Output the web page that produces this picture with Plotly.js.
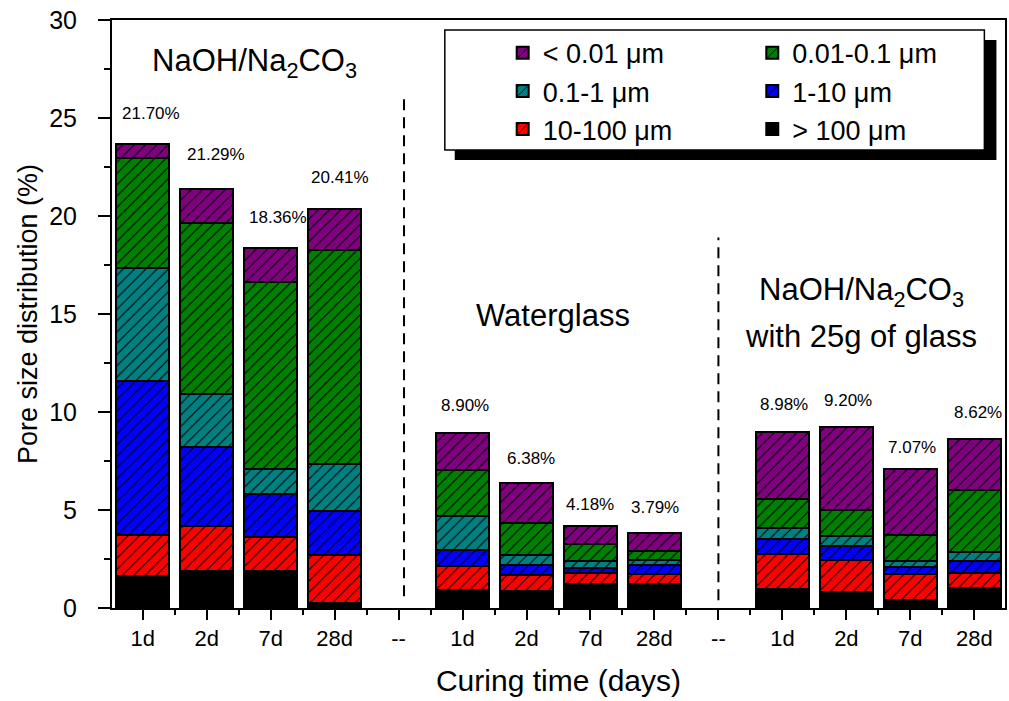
<!DOCTYPE html>
<html>
<head>
<meta charset="utf-8">
<script src="https://cdn.plot.ly/plotly-3.0.1.min.js"></script>
<style>html,body{margin:0;padding:0;background:#fff;}#chart{width:1009px;height:701px;}</style>
</head>
<body>
<div id="chart"></div>
<script>
// Tick labels along the x axis ("--" are the separators between groups)
const tickLabels = ['1d','2d','7d','28d','--','1d','2d','7d','28d','--','1d','2d','7d','28d'];

// Series (pore size classes), bottom to top of each stack
const seriesNames = ['> 100 \u03bcm','10-100 \u03bcm','1-10 \u03bcm','0.1-1 \u03bcm','0.01-0.1 \u03bcm','< 0.01 \u03bcm'];
const seriesColors = ['#000000','#ff0000','#0000ff','#008080','#008000','#800080'];

// Values (%) for the 12 bars: NaOH/Na2CO3 (1d,2d,7d,28d), Waterglass (...), NaOH/Na2CO3 + glass (...)
const gt100   = [1.62, 1.89, 1.89, 0.26, 0.91, 0.85, 1.25, 1.25, 0.96, 0.82, 0.39, 1.04];
const r10_100 = [2.10, 2.30, 1.74, 2.44, 1.22, 0.82, 0.56, 0.46, 1.77, 1.62, 1.33, 0.75];
const r1_10   = [7.84, 4.04, 2.19, 2.26, 0.82, 0.51, 0.24, 0.47, 0.77, 0.73, 0.35, 0.60];
const r01_1   = [5.80, 2.69, 1.27, 2.39, 1.74, 0.52, 0.34, 0.26, 0.59, 0.50, 0.32, 0.47];
const r001_01 = [5.58, 8.70, 9.55, 10.91, 2.35, 1.62, 0.87, 0.46, 1.47, 1.33, 1.36, 3.16];
const lt001   = [0.73, 1.74, 1.71, 2.12, 1.88, 2.07, 0.92, 0.91, 3.41, 4.21, 3.33, 2.61];
const seriesValues = [gt100, r10_100, r1_10, r01_1, r001_01, lt001];

// Percent labels written above the bars
const percentLabels = ['21.70%','21.29%','18.36%','20.41%','8.90%','6.38%','4.18%','3.79%','8.98%','9.20%','7.07%','8.62%'];
</script>
<script>
const font = 'Liberation Sans, Arial, sans-serif';

// x positions of bars = indices of non-separator tick labels
const barX = [];
tickLabels.forEach((t, i) => { if (t !== '--') barX.push(i); });

// legend layout: left column (legend) / right column (legend2)
const legendOf = ['legend2','legend','legend2','legend','legend2','legend'];
const rankOf   = [3, 3, 2, 2, 1, 1];

const traces = seriesNames.map((name, k) => {
  const solid = k === 0;
  return {
    type: 'bar',
    name: name,
    x: barX,
    y: seriesValues[k],
    width: 0.82,
    legend: legendOf[k],
    legendrank: rankOf[k],
    marker: {
      color: seriesColors[k],
      line: {color: '#000', width: 2},
      pattern: solid ? {shape: ''} : {shape: '/', fgcolor: '#000', bgcolor: seriesColors[k], fillmode: 'replace', size: 8, solidity: 0.14}
    },
    hoverinfo: 'x+y+name'
  };
});

// totals for label placement
const totals = barX.map((_, i) => seriesValues.reduce((s, arr) => s + arr[i], 0));
const lblXShift = [8, 9, 7, 5, 2, 4, 0, 1, 2, 2, 2, 4];
const lblYShift = [31, 35, 31, 31, 28, 24, 22, 26, 28, 27, 22, 26];

const annotations = percentLabels.map((t, i) => ({
  x: barX[i], y: totals[i], xref: 'x', yref: 'y', text: t, showarrow: false,
  xshift: lblXShift[i], yshift: lblYShift[i],
  font: {family: font, size: 17, color: '#000'}
}));

const bigFont = {family: font, size: 31, color: '#000'};
annotations.push(
  {x: 1.75, y: 27.8, xref: 'x', yref: 'y', text: 'NaOH/Na<sub>2</sub>CO<sub>3</sub>', showarrow: false, font: bigFont},
  {x: 6.41, y: 14.92, xref: 'x', yref: 'y', text: 'Waterglass', showarrow: false, font: bigFont},
  {x: 11.23, y: 16.1, xref: 'x', yref: 'y', text: 'NaOH/Na<sub>2</sub>CO<sub>3</sub>', showarrow: false, font: bigFont},
  {x: 11.23, y: 13.85, xref: 'x', yref: 'y', text: 'with 25g of glass', showarrow: false, font: bigFont}
);

const shapes = [
  // separator dashed lines
  {type: 'line', xref: 'x', yref: 'y', x0: 4.085, x1: 4.085, y0: 0.6, y1: 26.07, line: {color: '#000', width: 2, dash: '11px,7px'}},
  {type: 'line', xref: 'x', yref: 'y', x0: 9.0, x1: 9.0, y0: 0.4, y1: 18.9, line: {color: '#000', width: 2, dash: '11px,7px'}},
  // legend shadow and frame
  {type: 'rect', xref: 'paper', yref: 'paper', x0: 0.3838, x1: 0.9904, y0: 0.7618, y1: 0.966, fillcolor: '#000', line: {width: 0}, layer: 'above'},
  {type: 'rect', xref: 'paper', yref: 'paper', x0: 0.3727, x1: 0.9769, y0: 0.7788, y1: 0.983, fillcolor: '#fff', line: {color: '#000', width: 1.5}, layer: 'above'}
];

const legendCommon = {
  bgcolor: 'rgba(0,0,0,0)', borderwidth: 0, traceorder: 'normal',
  font: {family: font, size: 27, color: '#000'}, yanchor: 'top', xanchor: 'left'
};

const layout = {
  width: 1009, height: 701,
  margin: {l: 112, r: 4, t: 20, b: 93},
  paper_bgcolor: '#fff', plot_bgcolor: '#fff',
  barmode: 'stack',
  showlegend: true,
  legend: Object.assign({x: 0.4375, y: 0.985}, legendCommon),
  legend2: Object.assign({x: 0.717, y: 0.985}, legendCommon),
  xaxis: {
    range: [-0.48, 13.48],
    tickmode: 'array',
    tickvals: tickLabels.map((_, i) => i),
    ticktext: tickLabels,
    ticks: 'outside', ticklen: 10, tickwidth: 2, tickcolor: '#000',
    minor: {tick0: 0.5, dtick: 1, ticks: 'outside', ticklen: 5, tickwidth: 2, tickcolor: '#000'},
    showline: true, linewidth: 2, linecolor: '#000', mirror: true,
    showgrid: false, zeroline: false,
    tickfont: {family: font, size: 22, color: '#000'},
    title: {text: 'Curing time (days)', font: {family: font, size: 30, color: '#000'}, standoff: 20}
  },
  yaxis: {
    range: [0, 30],
    tickmode: 'linear', tick0: 0, dtick: 5,
    ticks: 'outside', ticklen: 12, tickwidth: 2, tickcolor: '#000',
    minor: {dtick: 2.5, ticks: 'outside', ticklen: 6, tickwidth: 2, tickcolor: '#000'},
    showline: true, linewidth: 2, linecolor: '#000', mirror: true,
    showgrid: false, zeroline: false,
    ticklabelstandoff: 16,
    tickfont: {family: font, size: 25, color: '#000'},
    title: {text: 'Pore size distribution (%)', font: {family: font, size: 27, color: '#000'}, standoff: 4}
  },
  annotations: annotations,
  shapes: shapes
};

Plotly.newPlot('chart', traces, layout, {displayModeBar: false, staticPlot: true});
</script>
</body>
</html>
